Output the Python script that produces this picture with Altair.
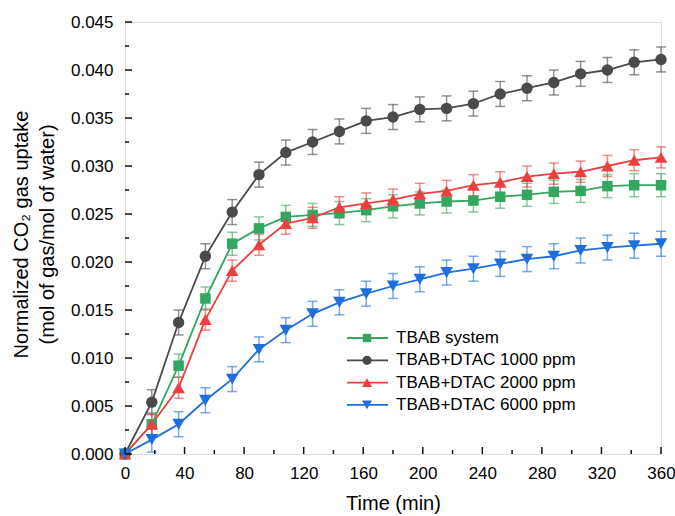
import altair as alt
import pandas as pd

time_min = [0, 18, 36, 54, 72, 90, 108, 126, 144, 162, 180, 198, 216, 234, 252, 270, 288, 306, 324, 342, 360]

series_names = ["TBAB system", "TBAB+DTAC 1000 ppm", "TBAB+DTAC 2000 ppm", "TBAB+DTAC 6000 ppm"]

tbab = [0.0, 0.0031, 0.0092, 0.0162, 0.0219, 0.0235, 0.0247, 0.0249, 0.0251, 0.0254, 0.0258,
        0.0261, 0.0263, 0.0264, 0.0268, 0.0270, 0.0273, 0.0274, 0.0279, 0.0280, 0.0280]
dtac1000 = [0.0, 0.0054, 0.0137, 0.0206, 0.0252, 0.0291, 0.0314, 0.0325, 0.0336, 0.0347, 0.0351,
            0.0359, 0.0360, 0.0365, 0.0375, 0.0381, 0.0387, 0.0396, 0.0400, 0.0408, 0.0411]
dtac2000 = [0.0, 0.0031, 0.0069, 0.0140, 0.0191, 0.0218, 0.0240, 0.0246, 0.0257, 0.0261, 0.0265,
            0.0271, 0.0274, 0.0280, 0.0283, 0.0289, 0.0292, 0.0294, 0.0300, 0.0306, 0.0309]
dtac6000 = [0.0, 0.0015, 0.0031, 0.0056, 0.0078, 0.0109, 0.0129, 0.0146, 0.0158, 0.0167, 0.0175,
            0.0182, 0.0189, 0.0193, 0.0198, 0.0203, 0.0206, 0.0212, 0.0215, 0.0217, 0.0219]

err_tbab = [0.0] + [0.0012] * 20
err_1000 = [0.0] + [0.0013] * 20
err_2000 = [0.0] + [0.0011] * 20
err_6000 = [0.0] + [0.0013] * 20

colors = ["#33a65f", "#4a4a4a", "#ee3f3f", "#1e6fdd"]
shapes = ["square", "circle", "triangle-up", "triangle-down"]
marker_sizes = [110, 130, 160, 160]
legend_marker_sizes = [70, 85, 100, 100]

x_major = [0, 40, 80, 120, 160, 200, 240, 280, 320, 360]
y_major = [0.000, 0.005, 0.010, 0.015, 0.020, 0.025, 0.030, 0.035, 0.040, 0.045]
x_minor = [v + 20 for v in x_major[:-1]]
y_minor = [round(v + 0.0025, 4) for v in y_major[:-1]]

values = [tbab, dtac1000, dtac2000, dtac6000]
errs = [err_tbab, err_1000, err_2000, err_6000]
rows = []
for name, vals, er in zip(series_names, values, errs):
    for t, v, e in zip(time_min, vals, er):
        rows.append({"series": name, "time": t, "value": v, "lo": v - e, "hi": v + e, "err": e})
df = pd.DataFrame(rows)

FONT = "Liberation Sans"
W, H = 536, 432

xs = alt.Scale(domain=[0, 360], nice=False, zero=False)
ys = alt.Scale(domain=[0, 0.045], nice=False, zero=False)
cscale = alt.Scale(domain=series_names, range=colors)

x_label_axis = alt.Axis(values=x_major, ticks=False, tickSize=0, domain=False, grid=False,
                        labelFont=FONT, labelFontSize=17, labelColor="#000", labelPadding=11,
                        labelFlush=False, labelOverlap=False,
                        title="Time (min)", titleFont=FONT, titleFontSize=20, titleFontWeight="normal",
                        titleColor="#000", titleY=55, titleBaseline="alphabetic")
y_label_axis = alt.Axis(values=y_major, format=".3f", ticks=False, tickSize=0, domain=False, grid=False,
                        labelFont=FONT, labelFontSize=17, labelColor="#000", labelPadding=12,
                        labelFlush=False, labelOverlap=False,
                        title=["Normalized CO₂ gas uptake", "(mol of gas/mol of water)"],
                        titleFont=FONT, titleFontSize=20, titleFontWeight="normal", titleColor="#000",
                        titleX=-98, titleY=212, titleBaseline="alphabetic", titleLineHeight=26,
                        titleAngle=270)

base = alt.Chart(df)

err_rule = base.mark_rule(strokeWidth=1.5, opacity=0.6).encode(
    x=alt.X("time:Q", scale=xs, axis=None),
    y=alt.Y("lo:Q", scale=ys, axis=None),
    y2="hi:Q",
    color=alt.Color("series:N", scale=cscale, legend=None),
).transform_filter("datum.err > 0")
err_lo = base.mark_tick(orient="horizontal", size=10, thickness=1.5, opacity=0.6).encode(
    x=alt.X("time:Q", scale=xs, axis=None),
    y=alt.Y("lo:Q", scale=ys, axis=None),
    color=alt.Color("series:N", scale=cscale, legend=None),
).transform_filter("datum.err > 0")
err_hi = base.mark_tick(orient="horizontal", size=10, thickness=1.5, opacity=0.6).encode(
    x=alt.X("time:Q", scale=xs, axis=None),
    y=alt.Y("hi:Q", scale=ys, axis=None),
    color=alt.Color("series:N", scale=cscale, legend=None),
).transform_filter("datum.err > 0")

lines = base.mark_line(strokeWidth=1.8).encode(
    x=alt.X("time:Q", scale=xs, axis=x_label_axis),
    y=alt.Y("value:Q", scale=ys, axis=y_label_axis),
    color=alt.Color("series:N", scale=cscale, legend=None),
    detail="series:N",
)

point_layers = []
for name, shp, sz in zip(series_names, shapes, marker_sizes):
    point_layers.append(
        base.mark_point(shape=shp, filled=True, size=sz, opacity=1).encode(
            x=alt.X("time:Q", scale=xs, axis=None),
            y=alt.Y("value:Q", scale=ys, axis=None),
            color=alt.Color("series:N", scale=cscale, legend=None),
        ).transform_filter(alt.datum.series == name)
    )

# inward axis ticks (major and minor), positioned through the axis scales
def x_ticks(vals, length):
    return alt.Chart(pd.DataFrame({"tick": vals})).mark_rule(color="#111", strokeWidth=1.5).encode(
        x=alt.X("tick:Q", scale=xs, axis=None), y=alt.value(H), y2=alt.value(H - length))

def y_ticks(vals, length):
    return alt.Chart(pd.DataFrame({"tick": vals})).mark_rule(color="#111", strokeWidth=1.5).encode(
        y=alt.Y("tick:Q", scale=ys, axis=None), x=alt.value(0), x2=alt.value(length))

tick_layers = [x_ticks(x_major, 7), x_ticks(x_minor, 4), y_ticks(y_major, 7), y_ticks(y_minor, 4)]

# legend block (line + marker + label for each series), inside the plot at lower right
LEG_LINE_X0, LEG_LINE_X1, LEG_MARK_X, LEG_TEXT_X = 222, 263, 242, 271
LEG_ROW0, LEG_ROW_STEP = 316, 22.3
legend_layers = []
for i, (name, col, shp, lsz) in enumerate(zip(series_names, colors, shapes, legend_marker_sizes)):
    ld = pd.DataFrame({"series": [name]})
    yy = LEG_ROW0 + i * LEG_ROW_STEP
    legend_layers.append(alt.Chart(ld).mark_rule(color=col, strokeWidth=1.8).encode(
        x=alt.value(LEG_LINE_X0), x2=alt.value(LEG_LINE_X1), y=alt.value(yy)))
    legend_layers.append(alt.Chart(ld).mark_point(shape=shp, filled=True, size=lsz, color=col, opacity=1).encode(
        x=alt.value(LEG_MARK_X), y=alt.value(yy)))
    legend_layers.append(alt.Chart(ld).mark_text(align="left", baseline="middle", font=FONT, fontSize=17,
                                                 color="#000").encode(
        x=alt.value(LEG_TEXT_X), y=alt.value(yy), text="series:N"))

chart = alt.layer(err_rule, err_lo, err_hi, lines, *point_layers, *tick_layers, *legend_layers).resolve_axis(
    x="independent", y="independent"
).properties(
    width=W, height=H, padding={"left": 125, "top": 22, "right": 14, "bottom": 62},
    autosize=alt.AutoSizeParams(type="none"),
).configure_view(stroke="#111", strokeWidth=1.5).configure(background="white")

chart.save("out.html", embed_options={"renderer": "svg", "actions": False})
